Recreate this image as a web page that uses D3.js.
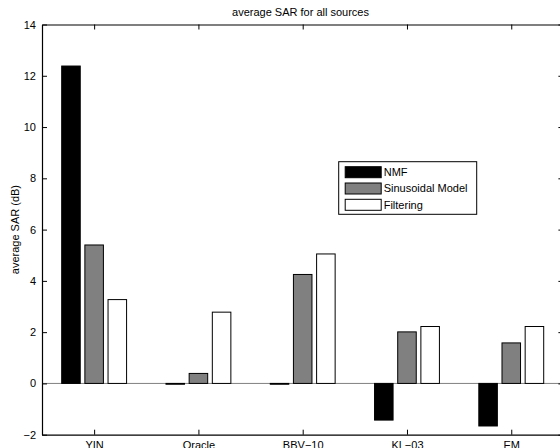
<!DOCTYPE html>
<html><head><meta charset="utf-8">
<script src="https://cdn.jsdelivr.net/npm/d3@7"></script>
<style>body{margin:0;background:#fff;overflow:hidden}text{font-family:"Liberation Sans",Arial,sans-serif;}</style>
</head><body><svg id="c" width="560" height="448"></svg>
<script>
const categories = ["YIN","Oracle","BBV\u221210","KL\u221203","EM"];
const seriesNames = ["NMF","Sinusoidal Model","Filtering"];
const nmf = [12.38, -0.03, -0.03, -1.43, -1.66];
const sinusoidal = [5.40, 0.39, 4.25, 2.01, 1.58];
const filtering = [3.27, 2.78, 5.05, 2.22, 2.22];
const yTicks = [-2,0,2,4,6,8,10,12,14];
const colors = ["#000000","#808080","#ffffff"];
const series = [nmf, sinusoidal, filtering];

(function(){
const svg = d3.select("#c");
const L = 42, R = 563.4, T = 24.5, B = 434.7;
const x = d3.scaleLinear().domain([0.5, 5.5]).range([L, R]);
const y = d3.scaleLinear().domain([-2, 14]).range([B, T]);
const step = 0.2222, bw = 0.8*step;

svg.append("line").attr("x1",L).attr("x2",R).attr("y1",y(0)).attr("y2",y(0))
  .attr("stroke","#808080").attr("stroke-width",1);

series.forEach((vals, s) => {
  svg.append("g").selectAll("rect").data(vals).join("rect")
    .attr("x", (d,i) => x(i+1 + (s-1)*step - bw/2))
    .attr("width", x(bw) - x(0))
    .attr("y", d => y(Math.max(0,d)))
    .attr("height", d => Math.max(0.8, Math.abs(y(d)-y(0))))
    .attr("fill", colors[s]).attr("stroke","#000").attr("stroke-width",1);
});

const fs = 11;
const axLeft = svg.append("g").attr("transform",`translate(${L},0)`)
  .call(d3.axisLeft(y).tickValues(yTicks).tickSizeInner(-5).tickSizeOuter(0).tickPadding(6)
    .tickFormat(d => d < 0 ? "\u2212" + Math.abs(d) : d));
const axRight = svg.append("g").attr("transform",`translate(${R},0)`)
  .call(d3.axisRight(y).tickValues(yTicks).tickSizeInner(-5).tickSizeOuter(0).tickFormat(""));
const axBottom = svg.append("g").attr("transform",`translate(0,${B})`)
  .call(d3.axisBottom(x).tickValues([1,2,3,4,5]).tickSizeInner(-5).tickSizeOuter(0).tickPadding(7)
    .tickFormat((d,i) => categories[i]));
const axTop = svg.append("g").attr("transform",`translate(0,${T})`)
  .call(d3.axisTop(x).tickValues([1,2,3,4,5]).tickSizeInner(-5).tickSizeOuter(0).tickFormat(""));
[axLeft,axRight,axBottom,axTop].forEach(g => {
  g.selectAll("path").attr("stroke","#000").attr("stroke-width",1.2);
  g.selectAll("line").attr("stroke","#000");
  g.selectAll("text").attr("fill","#000").style("font-size", fs+"px").style("font-family","'Liberation Sans',Arial,sans-serif");
});

svg.append("text").attr("x",(L+559)/2).attr("y",15.5).attr("text-anchor","middle")
  .style("font-size",fs+"px").text("average SAR for all sources");
svg.append("text").attr("transform",`translate(19,${(T+B)/2}) rotate(-90)`).attr("text-anchor","middle")
  .style("font-size",fs+"px").text("average SAR (dB)");

const lg = svg.append("g").attr("transform","translate(338.7,161.7)");
lg.append("rect").attr("width",138).attr("height",52.6).attr("fill","#fff").attr("stroke","#000").attr("stroke-width",1);
seriesNames.forEach((n,i) => {
  const yy = 10.5 + i*16.3;
  lg.append("rect").attr("x",6.5).attr("y",yy-5.5).attr("width",36).attr("height",11)
    .attr("fill",colors[i]).attr("stroke","#000").attr("stroke-width",1);
  lg.append("text").attr("x",45).attr("y",yy+4).style("font-size",fs+"px").text(n);
});
})();
</script></body></html>
